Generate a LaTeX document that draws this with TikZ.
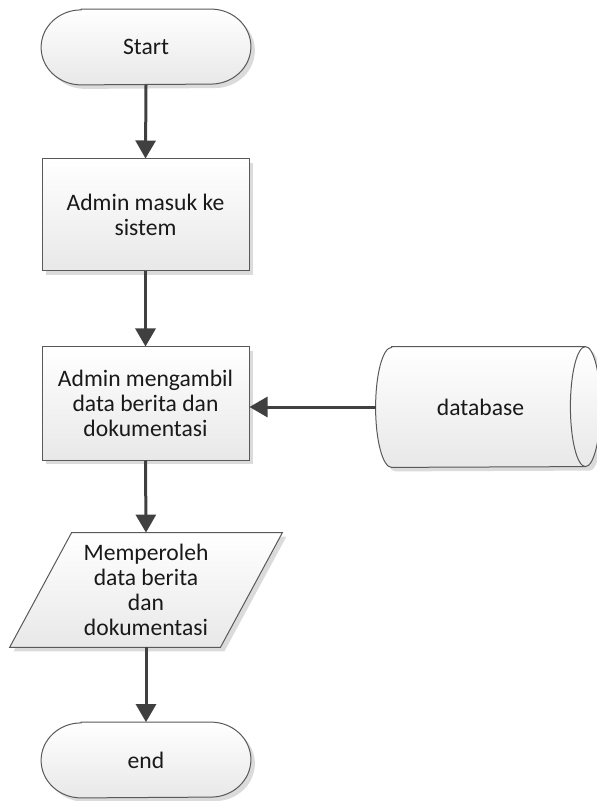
\documentclass[tikz,border=0pt]{standalone}
\usepackage{fontspec}
\setmainfont{Carlito}
\usetikzlibrary{arrows.meta, shadows, backgrounds}

\begin{document}
\begin{tikzpicture}[x=0.5pt, y=-0.5pt,
    shade box/.style={draw=black!65, line width=0.5pt, top color=white, bottom color=black!9,
      drop shadow={fill=black!14, opacity=1, shadow xshift=2pt, shadow yshift=-2pt}},
    label text/.style={align=center, inner sep=0pt, text=black!90, font=\fontsize{11.8}{12.5}\selectfont},
    process/.style={shade box, label text, minimum width=103.5pt, minimum height=56pt},
    term/.style={label text, minimum width=104.5pt, minimum height=37.5pt},
    flow/.style={line width=1.5pt, draw=black!75, -{Triangle[length=9pt, width=10pt]}}]
  \useasboundingbox (0,0) rectangle (596,801);

  % terminals, data and storage (outlines drawn behind)
  \node[term] (start) at (146,47) {Start};
  \node[term] (end) at (146,760) {end};
  \node[label text, minimum width=105pt, minimum height=57pt] (result) at (146,590)
    {Memperoleh\\data berita\\dan\\dokumentasi};
  \node[label text, minimum width=96.5pt, minimum height=60pt] (db) at (488.5,407) {database\hspace*{8pt}};
  \coordinate (db in) at ([xshift=-8pt]db.west);
  \begin{scope}[on background layer]
    \foreach \t in {start, end} {
      \path[shade box] ([xshift=20pt]\t.north west) -- ([xshift=-20pt]\t.north east)
        arc[start angle=90, end angle=-90, x radius=20pt, y radius=18.75pt]
        -- ([xshift=20pt]\t.south west)
        arc[start angle=270, end angle=90, x radius=20pt, y radius=18.75pt] -- cycle;
    }
    \path[shade box] ([xshift=15.5pt]result.north west) -- ([xshift=15.5pt]result.north east)
      -- ([xshift=-15.5pt]result.south east) -- ([xshift=-15.5pt]result.south west) -- cycle;
    \path[shade box] (db.north west) -- (db.north east)
      arc[start angle=90, end angle=-90, x radius=7.5pt, y radius=30pt]
      -- (db.south west)
      arc[start angle=270, end angle=90, x radius=8pt, y radius=30pt] -- cycle;
    \draw[draw=black!65, line width=0.5pt] (db.north east)
      arc[start angle=90, end angle=270, x radius=7.5pt, y radius=30pt];
  \end{scope}

  \node[process] (login) at (145.5,215) {Admin masuk ke\\sistem};
  \node[process, minimum height=56.5pt] (fetch) at (145.5,403.5) {Admin mengambil\\data berita dan\\dokumentasi};

  \draw[flow] (start.south) -- (login.north);
  \draw[flow] (login.south) -- (fetch.north);
  \draw[flow] (db in) -- (db in -| fetch.east);
  \draw[flow] (fetch.south) -- (result.north);
  \draw[flow] (result.south) -- (end.north);
\end{tikzpicture}
\end{document}
